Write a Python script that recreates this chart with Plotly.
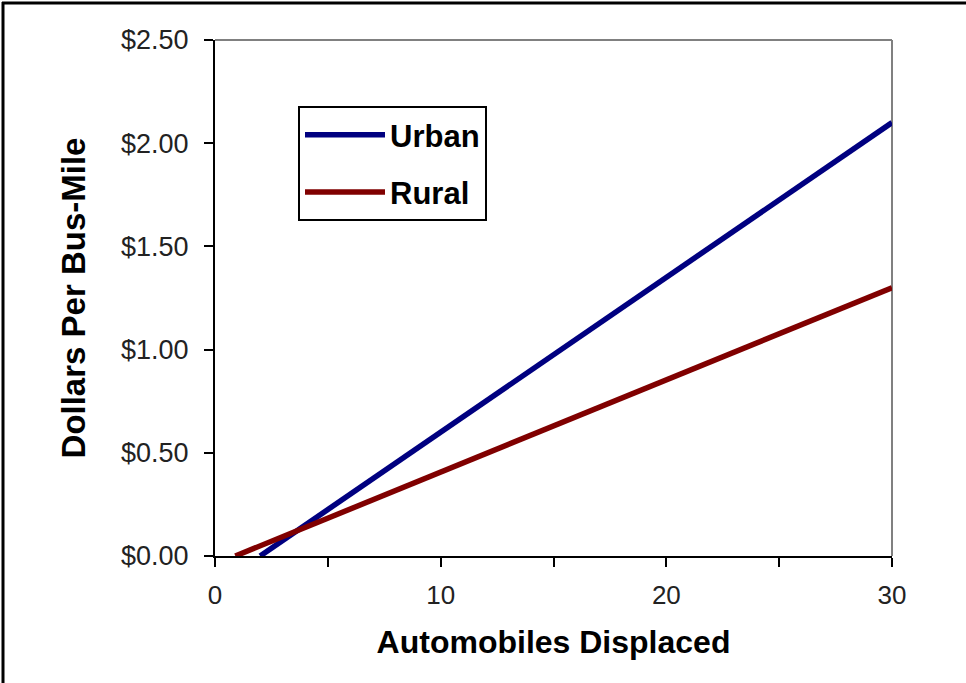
import plotly.graph_objects as go

# Data
series_names = ["Urban", "Rural"]
urban_x = [2.0, 30]
urban_y = [0.0, 2.10]
rural_x = [0.9, 30]
rural_y = [0.0, 1.30]
series_colors = ["#000080", "#800000"]

x_tickvals = [0, 5, 10, 15, 20, 25, 30]
x_ticktext = ["0", "", "10", "", "20", "", "30"]
y_tickvals = [0, 0.5, 1.0, 1.5, 2.0, 2.5]
y_ticktext = ["$0.00", "$0.50", "$1.00", "$1.50", "$2.00", "$2.50"]

fig = go.Figure()
fig.add_trace(go.Scatter(x=urban_x, y=urban_y, mode="lines", name=series_names[0],
                         legendgroup="u", line=dict(color=series_colors[0], width=5.5)))
fig.add_trace(go.Scatter(x=rural_x, y=rural_y, mode="lines", name=series_names[1],
                         legendgroup="r", line=dict(color=series_colors[1], width=5.5)))

L, R, T, B = 215, 74, 40, 127
W, H = 966, 683
pw, ph = W - L - R, H - T - B

def px(p):
    return (p - L) / pw

def py(q):
    return (H - B - q) / ph

shapes = [
    dict(type="line", xref="paper", yref="paper", x0=0, x1=1, y0=1, y1=1,
         line=dict(color="#808080", width=2), layer="below"),
    dict(type="line", xref="paper", yref="paper", x0=1, x1=1, y0=0, y1=1,
         line=dict(color="#808080", width=2), layer="below"),
    dict(type="line", xref="paper", yref="paper", x0=px(2), x1=px(975), y0=py(3), y1=py(3),
         line=dict(color="black", width=3)),
    dict(type="line", xref="paper", yref="paper", x0=px(3), x1=px(3), y0=py(2), y1=py(700),
         line=dict(color="black", width=3)),
]

fig.update_layout(
    width=W, height=H,
    margin=dict(l=L, r=R, t=T, b=B, autoexpand=False),
    paper_bgcolor="white", plot_bgcolor="white",
    font=dict(family="Liberation Sans, Arial, sans-serif", color="black"),
    shapes=shapes,
    legend=dict(
        x=px(298), y=py(106), xanchor="left", yanchor="top",
        bordercolor="black", borderwidth=2, bgcolor="white",
        font=dict(size=31, family="Liberation Sans, Arial, sans-serif", weight="bold"),
        itemwidth=80, tracegroupgap=14, entrywidth=112,
    ),
    showlegend=True,
)

fig.update_xaxes(
    range=[0, 30], tickvals=x_tickvals, ticktext=x_ticktext,
    showgrid=False, zeroline=False, showline=True, linecolor="black", linewidth=2,
    ticks="outside", tickcolor="black", tickwidth=2, ticklen=9, ticklabelstandoff=6,
    tickfont=dict(size=26, color="#222222"),
    title=dict(text="<b>Automobiles Displaced</b>", font=dict(size=32), standoff=21),
)
fig.update_yaxes(
    range=[0, 2.5], tickvals=y_tickvals, ticktext=y_ticktext,
    showgrid=False, zeroline=False, showline=True, linecolor="black", linewidth=2,
    ticks="outside", tickcolor="black", tickwidth=2, ticklen=9, ticklabelstandoff=10,
    tickfont=dict(size=27, color="#222222"),
    title=dict(text="<b>Dollars Per Bus-Mile</b>", font=dict(size=33), standoff=25),
)

fig.write_html("out.html", config={"displayModeBar": False},
               post_script="document.body.style.margin='0';")
